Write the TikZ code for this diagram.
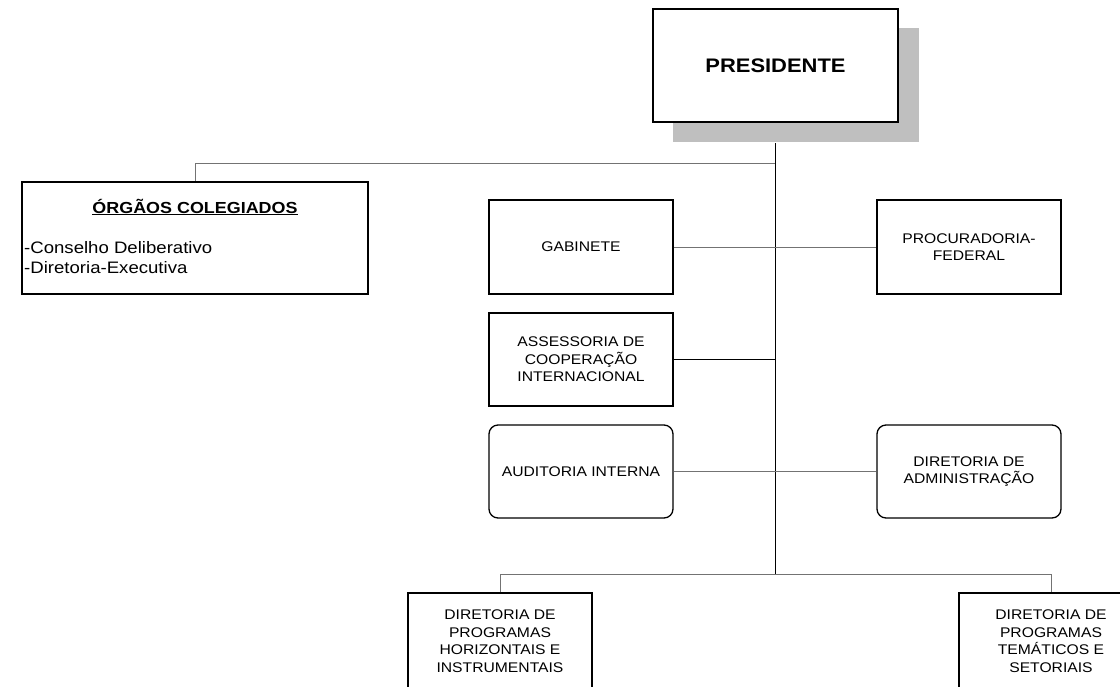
\documentclass[tikz,border=0pt]{standalone}
\usepackage{fontspec}
\setmainfont{Liberation Sans}[FakeStretch=1.12]
\begin{document}
\begin{tikzpicture}[x=1pt,y=-1pt,
  box/.style={draw=black,line width=1.3pt,fill=white,inner sep=2pt,align=center,
    font=\fontsize{14}{17.5}\selectfont},
  rbox/.style={box,rounded corners=9pt},
  conn/.style={line width=1pt,black!55},
  connb/.style={line width=1pt,black}]
\useasboundingbox (0,0) rectangle (1120,686);
\clip (0,0) rectangle (1120,686);
% president with shadow
\node[fill=black!25,draw=none,minimum width=246pt,minimum height=114pt,inner sep=0] (shadow) at (796,85) {};
\node[box,minimum width=245pt,minimum height=113pt,font=\fontsize{19.6}{22}\selectfont\bfseries] (pres) at (775.5,65.5) {PRESIDENTE};
% collegiate bodies
\node[box,minimum width=346pt,minimum height=112pt] (org) at (195,238) {};
\node[inner sep=0,font=\fontsize{16}{20}\selectfont\bfseries] (orgt) at (195,207) {\underline{ÓRGÃOS COLEGIADOS}};
\node[inner sep=0,anchor=west,align=left,font=\fontsize{16.6}{20}\selectfont] (orgl) at (24,258) {-Conselho Deliberativo\\-Diretoria-Executiva};
% units
\node[box,minimum width=184pt,minimum height=94pt] (gab) at (581,247) {GABINETE};
\node[box,minimum width=184pt,minimum height=93pt] (ass) at (581,359.5) {ASSESSORIA DE\\COOPERAÇÃO\\INTERNACIONAL};
\node[box,minimum width=184pt,minimum height=94pt] (proc) at (969,247) {PROCURADORIA-\\FEDERAL};
\node[rbox,minimum width=184pt,minimum height=93pt] (aud) at (581,471.5) {AUDITORIA INTERNA};
\node[rbox,minimum width=184pt,minimum height=93pt] (dadm) at (969,471.5) {DIRETORIA DE\\ADMINISTRAÇÃO};
\node[box,minimum width=184pt,minimum height=96pt] (dph) at (500,641) {DIRETORIA DE\\PROGRAMAS\\HORIZONTAIS E\\INSTRUMENTAIS};
\node[box,minimum width=184pt,minimum height=96pt] (dpt) at (1051,641) {DIRETORIA DE\\PROGRAMAS\\TEMÁTICOS E\\SETORIAIS};
% trunk
\coordinate (ttop) at (775,143);
\coordinate (tbr) at (775,163);
\coordinate (tbot) at (775,574);
\draw[connb] (ttop) -- (tbot);
\draw[conn] (tbr) -- (tbr -| org.north) -- (org.north);
\draw[conn] (gab.east) -- (proc.west);
\draw[connb] (ass.east) -- (ass.east -| tbr);
\draw[conn] (aud.east) -- (dadm.west);
\draw[conn] (dph.north) -- (dph.north |- tbot) -- (dpt.north |- tbot) -- (dpt.north);
\end{tikzpicture}
\end{document}
